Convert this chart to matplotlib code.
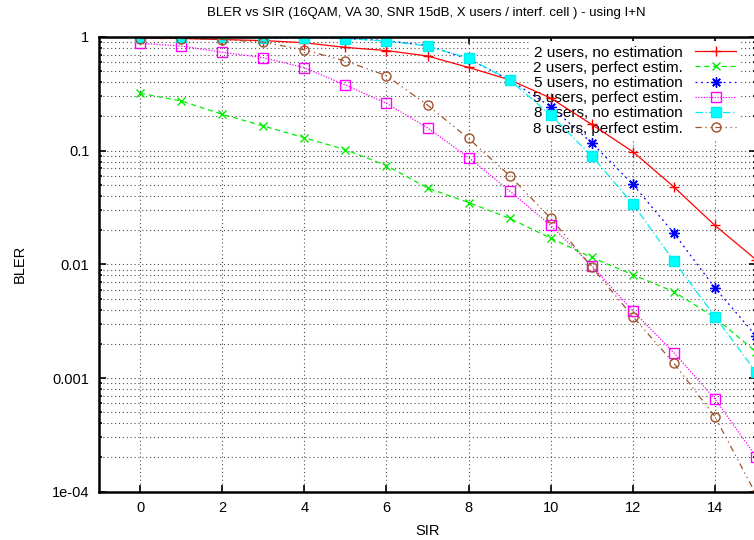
import numpy as np
import matplotlib
matplotlib.use('Agg')
import matplotlib.pyplot as plt
from matplotlib.ticker import LogLocator, FixedLocator, NullFormatter

plt.rcParams['font.family'] = ['Liberation Sans', 'DejaVu Sans']

# SIR points (dB)
sir = np.arange(0, 16)

# BLER
u2_noest = [0.98, 0.97, 0.95, 0.93, 0.89, 0.81, 0.76, 0.68, 0.54, 0.42,
            0.29, 0.17, 0.098, 0.048, 0.022, 0.011]
u2_perf = [0.32, 0.274, 0.209, 0.165, 0.13, 0.102, 0.074, 0.047, 0.035, 0.0254,
           0.017, 0.0115, 0.0081, 0.00575, 0.0034, 0.0017]
u5_noest = [0.99, 0.99, 0.99, 0.98, 0.98, 0.97, 0.93, 0.84, 0.64, 0.42,
            0.244, 0.117, 0.0506, 0.0188, 0.0062, 0.00235]
u5_perf = [0.88, 0.833, 0.734, 0.658, 0.537, 0.378, 0.261, 0.159, 0.087, 0.0442,
           0.022, 0.00975, 0.0039, 0.00167, 0.000655, 0.000204]
u8_noest = [0.99, 0.99, 0.99, 0.98, 0.98, 0.97, 0.92, 0.833, 0.65, 0.418,
            0.206, 0.0898, 0.034, 0.0107, 0.00347, 0.00113]
u8_perf = [0.97, 0.97, 0.95, 0.90, 0.77, 0.615, 0.457, 0.252, 0.128, 0.0603,
           0.0254, 0.0095, 0.00347, 0.00135, 0.000458, 0.000095]

labels = ['2 users, no estimation', '2 users, perfect estim.',
          '5 users, no estimation', '5 users, perfect estim.',
          '8 users, no estimation', '8 users, perfect estim.']
x_ticks = [0, 2, 4, 6, 8, 10, 12, 14]
y_ticks = [1e-4, 1e-3, 1e-2, 1e-1, 1]
y_ticklabels = ['1e-04', '0.001', '0.01', '0.1', '1']

fig = plt.figure(figsize=(7.54, 5.40), dpi=100)
ax = fig.add_axes([99 / 754, 1 - 491.7 / 540, 657 / 754, (491.7 - 37) / 540])

styles = [
    dict(color='#ff0000', ls='-', marker='+', ms=7, mfc='none'),
    dict(color='#00ee00', ls=(0, (4, 3)), marker='x', ms=6, mfc='none'),
    dict(color='#0000ff', ls=(0, (1.5, 3)), marker=(8, 2, 0), ms=7.5, mfc='none'),
    dict(color='#ff00ff', ls=(0, (1, 1.2)), marker='s', ms=6.5, mfc='none'),
    dict(color='#00eeee', ls=(0, (6, 2, 1, 2)), marker='s', ms=6.5, mfc='#00ffff'),
    dict(color='#a0522d', ls=(0, (5, 3, 1, 3, 1, 3)), marker='o', ms=6.5, mfc='none'),
]
series = [u2_noest, u2_perf, u5_noest, u5_perf, u8_noest, u8_perf]
for vals, lab, st in zip(series, labels, styles):
    ax.plot(sir, vals, label=lab, lw=0.9, mew=1.0, zorder=2, **st)

ax.set_yscale('log')
ax.set_xlim(-1, 15)
ax.set_ylim(1e-4, 1)
ax.xaxis.set_major_locator(FixedLocator(x_ticks))
ax.set_xticklabels([str(t) for t in x_ticks])
ax.yaxis.set_major_locator(FixedLocator(y_ticks))
ax.set_yticklabels(y_ticklabels)
ax.yaxis.set_minor_locator(LogLocator(base=10, subs=np.arange(2, 10)))
ax.yaxis.set_minor_formatter(NullFormatter())

ax.tick_params(which='both', direction='in', top=True, right=True, labelsize=10.5,
               width=1.2, color='black')
ax.tick_params(which='major', length=5, pad=7)
ax.tick_params(which='minor', length=2.5)
for sp in ax.spines.values():
    sp.set_linewidth(1.8)

ax.set_axisbelow(True)
ax.grid(True, which='both', axis='y', ls=(0, (1, 2.5)), lw=0.8, color='0.3')
ax.grid(True, which='major', axis='x', ls=(0, (1, 2.5)), lw=0.8, color='0.3')

ax.set_xlabel('SIR', fontsize=10.5, labelpad=6)
ax.set_ylabel('BLER', fontsize=10.5, labelpad=18)
fig.text(426 / 754, 1 - 13 / 540, 'BLER vs SIR (16QAM, VA 30, SNR 15dB, X users / interf. cell ) - using I+N',
         ha='center', va='center', fontsize=9.5)

leg = ax.legend(loc='upper right', bbox_to_anchor=(741 / 754, 1 - 41 / 540),
                bbox_transform=fig.transFigure, markerfirst=False, frameon=True,
                fontsize=11, handlelength=2.7, handletextpad=0.8, labelspacing=0.08,
                borderpad=0.3, borderaxespad=0)
leg.get_frame().set_facecolor('white')
leg.get_frame().set_edgecolor('none')
leg.get_frame().set_alpha(1)
leg.set_zorder(1.5)

fig.savefig('out.png', dpi=100)
